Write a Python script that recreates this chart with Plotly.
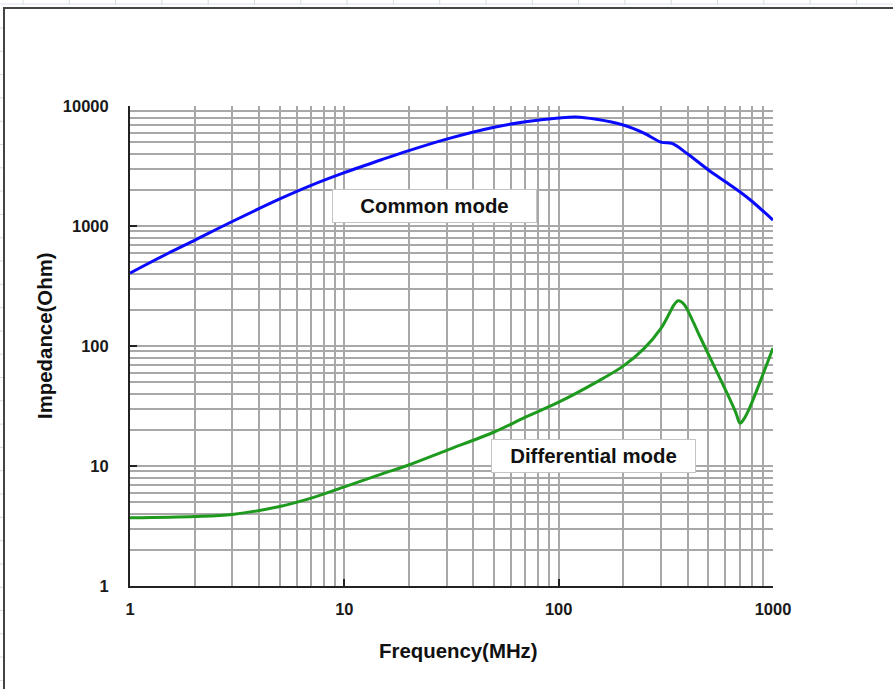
import plotly.graph_objects as go

# ---- data ----
cm_freq = [1, 1.5, 2, 3, 5, 7, 10, 15, 20, 30, 50, 70, 100, 120, 150, 200, 250, 300, 340, 400, 500, 600, 700, 800, 1000]
cm_imp = [405, 590, 760, 1090, 1680, 2180, 2780, 3580, 4250, 5300, 6650, 7400, 7950, 8100, 7750, 6950, 5950, 5000, 4850, 3980, 2930, 2340, 1930, 1600, 1120]

dm_freq = [1, 2, 3, 5, 7, 10, 15, 20, 30, 50, 70, 100, 150, 200, 250, 300, 330, 345, 361, 385, 420, 456, 527, 608, 670, 702, 730, 781, 901, 1000]
dm_imp = [3.7, 3.8, 3.95, 4.6, 5.4, 6.7, 8.6, 10.2, 13.5, 19.2, 25.5, 34, 50, 68, 95, 140, 190, 220, 238, 222, 165, 120, 70, 41, 28, 22.7, 24.5, 31, 59, 96]

x_ticks = [1, 10, 100, 1000]
x_tick_text = ["1", "10", "100", "1000"]
y_ticks = [1, 10, 100, 1000, 10000]
y_tick_text = ["1", "10", "100", "1000", "10000"]

W, H = 893, 689
L, R, T, B = 130, 773, 106, 586


def px(x):
    return (x - L) / (R - L)


def py(y):
    return (B - y) / (B - T)


def minor_vals(decades):
    out = []
    for d in decades:
        for m in range(2, 10):
            out.append(m * 10 ** d)
    return out


FONT = "Liberation Sans, Arial, sans-serif"
GRID = "#a8a8a8"

fig = go.Figure()
fig.add_trace(go.Scatter(x=cm_freq, y=cm_imp, mode="lines", name="Common mode",
                         line=dict(color="#0a0aff", width=3, shape="spline", smoothing=0.9)))
fig.add_trace(go.Scatter(x=dm_freq, y=dm_imp, mode="lines", name="Differential mode",
                         line=dict(color="#1e9a1e", width=3, shape="spline", smoothing=0.9)))

axis_common = dict(
    type="log", showgrid=True, gridcolor=GRID, gridwidth=1.5,
    showline=True, linecolor="#222222", linewidth=2,
    ticks="inside", ticklen=7, tickcolor="#222222", tickwidth=2,
    tickfont=dict(family=FONT, size=16.5, color="#1a1a1a", weight="bold"),
    zeroline=False,
)

fig.update_xaxes(range=[0, 3], tickmode="array", tickvals=x_ticks, ticktext=x_tick_text,
                 minor=dict(tickmode="array", tickvals=minor_vals([0, 1, 2]), showgrid=True,
                            gridcolor=GRID, gridwidth=1.5, ticks=""),
                 ticklabelstandoff=7, **axis_common)
fig.update_yaxes(range=[0, 4], tickmode="array", tickvals=y_ticks, ticktext=y_tick_text,
                 minor=dict(tickmode="array", tickvals=minor_vals([0, 1, 2, 3]), showgrid=True,
                            gridcolor=GRID, gridwidth=1.5, ticks=""),
                 ticklabelstandoff=16, **axis_common)

shapes = []
# outer frame (window border with ruler marks)
shapes.append(dict(type="line", xref="paper", yref="paper", x0=px(0), x1=px(W), y0=py(4), y1=py(4),
                   line=dict(color="#dde3ea", width=1)))
for i in range(20):
    xx = 23 + 46.3 * i
    shapes.append(dict(type="line", xref="paper", yref="paper", x0=px(xx), x1=px(xx), y0=py(0), y1=py(5),
                       line=dict(color="#d3dae4", width=1)))
for i in range(30):
    yy = 28 + 23.3 * i
    shapes.append(dict(type="line", xref="paper", yref="paper", x0=px(0), x1=px(3), y0=py(yy), y1=py(yy),
                       line=dict(color="#d3dae4", width=1)))
shapes.append(dict(type="line", xref="paper", yref="paper", x0=px(3), x1=px(W), y0=py(8), y1=py(8),
                   line=dict(color="#444444", width=2)))
shapes.append(dict(type="line", xref="paper", yref="paper", x0=px(4), x1=px(4), y0=py(7), y1=py(H),
                   line=dict(color="#444444", width=2)))

LABEL_FONT = dict(family=FONT, size=20.4, color="#111111", weight="bold")
annotations = [
    dict(text="Common mode", xref="paper", yref="paper", x=px(434.5), y=py(205.5),
         xanchor="center", yanchor="middle",
         showarrow=False, width=201, height=30, bgcolor="white", bordercolor="#c4c4c4",
         borderwidth=1, borderpad=1, font=LABEL_FONT),
    dict(text="Differential mode", xref="paper", yref="paper", x=px(593), y=py(455.5),
         xanchor="center", yanchor="middle",
         showarrow=False, width=201, height=30, bgcolor="white", bordercolor="#c4c4c4",
         borderwidth=1, borderpad=1, font=LABEL_FONT),
    dict(text="Frequency(MHz)", xref="paper", yref="paper", x=px(458), y=py(651),
         xanchor="center", yanchor="middle", showarrow=False, font=LABEL_FONT),
    dict(text="Impedance(Ohm)", xref="paper", yref="paper", x=px(45), y=py(336), textangle=-90,
         xanchor="center", yanchor="middle", showarrow=False, font=LABEL_FONT),
]

fig.update_layout(
    width=W, height=H,
    margin=dict(l=L, r=W - R, t=T, b=H - B),
    paper_bgcolor="white", plot_bgcolor="white",
    showlegend=False,
    shapes=shapes, annotations=annotations,
    font=dict(family=FONT),
)

fig.write_html("out.html", config={"displayModeBar": False},
               post_script="document.body.style.margin='0px';document.body.style.overflow='hidden';")
